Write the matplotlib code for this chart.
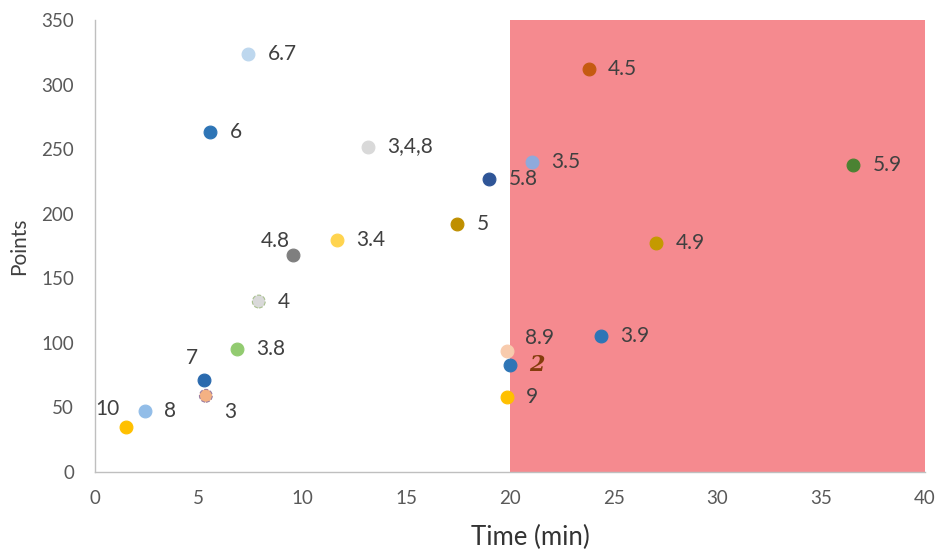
import matplotlib.pyplot as plt

plt.rcParams['font.family'] = ['Lato', 'DejaVu Sans']

# values
times = [1.5, 2.4, 5.25, 5.35, 6.85, 7.9, 9.55, 11.65, 7.4, 5.55, 13.15,
         17.45, 19.0, 21.05, 23.8, 36.55, 27.05, 24.4, 19.85, 20.0, 19.85]
points = [35, 47, 71, 59, 95, 132, 168, 180, 324, 263, 252,
          192, 227, 240, 312, 238, 177, 105, 94, 83, 58]
labels = ['10', '8', '7', '3', '3.8', '4', '4.8', '3.4', '6.7', '6', '3,4,8',
          '5', '5.8', '3.5', '4.5', '5.9', '4.9', '3.9', '8.9', '2', '9']
colors = ['#FFC000', '#92BDE8', '#2A6AAE', '#F4B183', '#92CB70', '#D9D9D9',
          '#7F7F7F', '#FFD44F', '#BDD7EE', '#2E75B6', '#D9D9D9',
          '#BF8F00', '#2F5597', '#8FAADC', '#C55A11', '#4B8232', '#C49A00',
          '#2E75B6', '#F8CBAD', '#2E75B6', '#FFC000']

# label offsets (points) for the ones not sitting to the right
offsets = {'10': (-5, 13, 'right'), '7': (-4, 16, 'right'), '3': (13, -12, 'left'),
           '4.8': (-2, 10, 'right'), '8.9': (13, 9, 'left')}

fig = plt.figure(figsize=(9.39, 5.57), dpi=100)
ax = fig.add_axes([0.101, 0.1526, 0.884, 0.8115])

ax.axvspan(20, 40, color='#F58A8F', lw=0, zorder=0)

for x, y, lab, c in zip(times, points, labels, colors):
    ls = '--' if lab in ('3', '4') else '-'
    ec = {'3': '#9C7FA0', '4': '#A9C08F'}.get(lab, c)
    ax.scatter(x, y, s=85, color=c, edgecolors=ec, linewidths=0.8,
               linestyles=ls, zorder=3)
    dx, dy, ha = offsets.get(lab, (14, 0, 'left'))
    if lab == '2':
        ax.annotate(lab, (x, y), xytext=(14, 0), textcoords='offset points',
                    ha='left', va='center', fontsize=16, color='#843C0C',
                    fontweight='bold', fontstyle='italic', family='DejaVu Serif')
    else:
        ax.annotate(lab, (x, y), xytext=(dx, dy), textcoords='offset points',
                    ha=ha, va='center', fontsize=15, color='#404040')

ax.set_xlim(0, 40)
ax.set_ylim(0, 350)
ax.set_xticks(range(0, 41, 5))
ax.set_yticks(range(0, 351, 50))
ax.tick_params(length=0, labelsize=13.5, labelcolor='#595959', pad=13)
ax.tick_params(axis='y', pad=15)

for s in ('top', 'right'):
    ax.spines[s].set_visible(False)
for s in ('left', 'bottom'):
    ax.spines[s].set_color('#BFBFBF')
    ax.spines[s].set_linewidth(1)

ax.set_xlabel('Time (min)', fontsize=18.5, color='#333333', labelpad=13)
ax.xaxis.label.set_x(0.525)
ax.set_ylabel('Points', fontsize=15, color='#404040', labelpad=9)

fig.savefig('out.png', dpi=100)
